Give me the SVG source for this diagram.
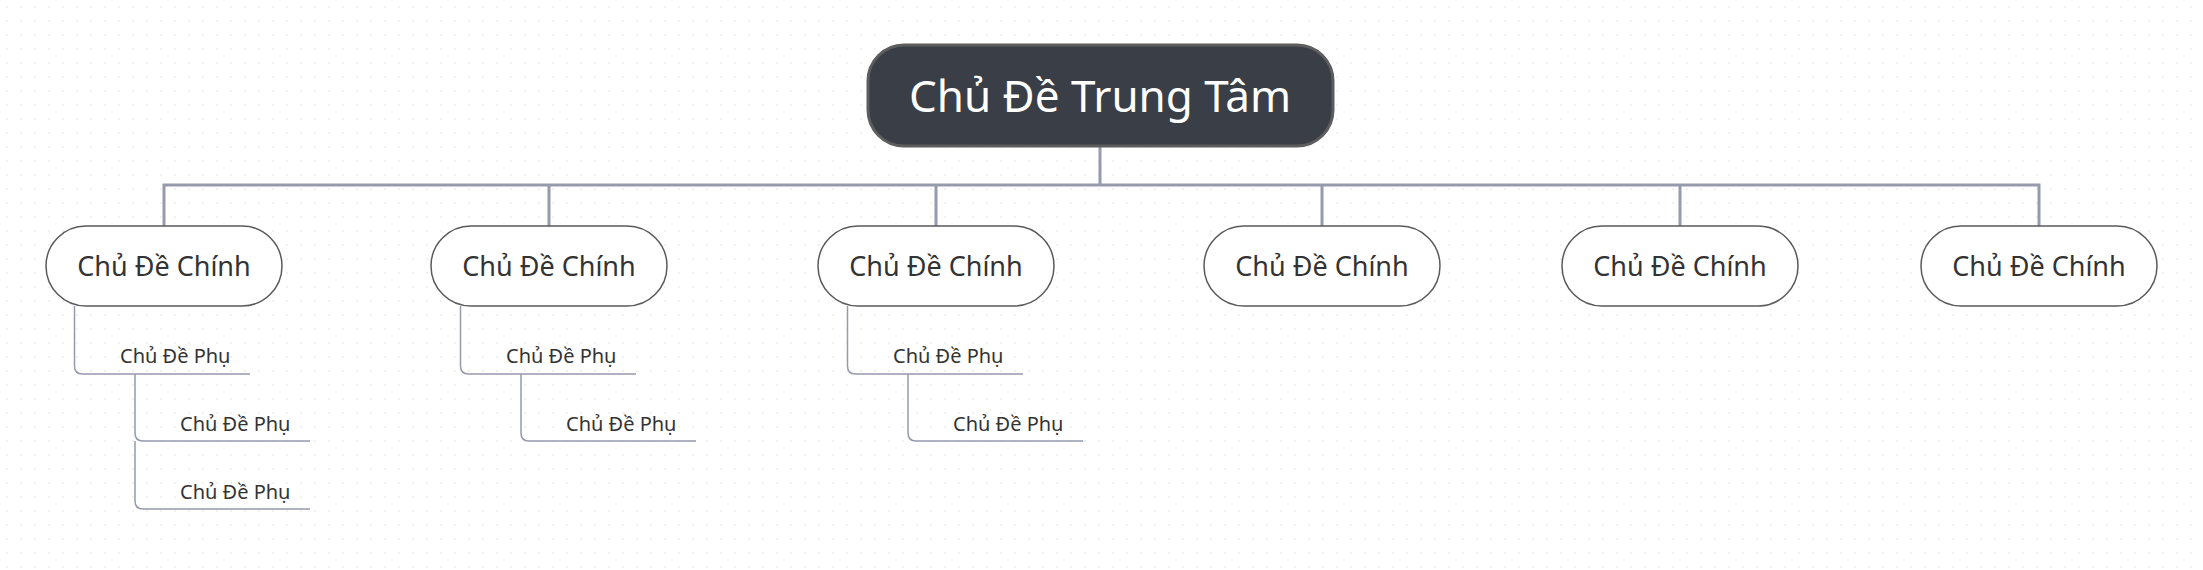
<svg xmlns="http://www.w3.org/2000/svg" width="2203" height="570" viewBox="0 0 2203 570">
<defs>
<pattern id="dots" width="14" height="14" patternUnits="userSpaceOnUse"><circle cx="7" cy="7" r="1" fill="#ececec"/></pattern>
</defs>
<style>
.main rect{fill:#fff;stroke:#5a5a5a;stroke-width:1.5}
.main text{font-family:"Noto Sans",sans-serif;font-size:27px;fill:#333;text-anchor:middle}
.sub{font-family:"Noto Sans",sans-serif;font-size:20px;fill:#333}
.c{fill:none;stroke:#959bad;stroke-width:3}
.s{fill:none;stroke:#959bad;stroke-width:1.5}
</style>
<rect width="2203" height="570" fill="#fff"/>
<rect width="2203" height="570" fill="url(#dots)"/>
<g id="connectors">
<path class="c" d="M1100 146V185M164 226V185H2039V226M549 185V226M936 185V226M1322 185V226M1680 185V226"/>
<path class="s" d="M74.5 306V366q0 8 8 8H250M135 374V433q0 8 8 8H310M135 441V501q0 8 8 8H310"/>
<path class="s" d="M460.5 306V366q0 8 8 8H636M521 374V433q0 8 8 8H696"/>
<path class="s" d="M847.5 306V366q0 8 8 8H1023M908 374V433q0 8 8 8H1083"/>
</g>
<g id="center"><rect x="868" y="45" width="465" height="101" rx="36" fill="#3a3e47" stroke="#5d5d5d" stroke-width="3"/><text x="1100" y="112" font-family="Noto Sans,sans-serif" font-size="44" fill="#fff" text-anchor="middle">Chủ Đề Trung Tâm</text></g>
<g id="m1" class="main"><rect x="46" y="226" width="236" height="80" rx="40"/><text x="164" y="276">Chủ Đề Chính</text></g>
<g id="m2" class="main"><rect x="431" y="226" width="236" height="80" rx="40"/><text x="549" y="276">Chủ Đề Chính</text></g>
<g id="m3" class="main"><rect x="818" y="226" width="236" height="80" rx="40"/><text x="936" y="276">Chủ Đề Chính</text></g>
<g id="m4" class="main"><rect x="1204" y="226" width="236" height="80" rx="40"/><text x="1322" y="276">Chủ Đề Chính</text></g>
<g id="m5" class="main"><rect x="1562" y="226" width="236" height="80" rx="40"/><text x="1680" y="276">Chủ Đề Chính</text></g>
<g id="m6" class="main"><rect x="1921" y="226" width="236" height="80" rx="40"/><text x="2039" y="276">Chủ Đề Chính</text></g>
<g id="s1"><text class="sub" x="120" y="363">Chủ Đề Phụ</text></g>
<g id="s2"><text class="sub" x="180" y="431">Chủ Đề Phụ</text></g>
<g id="s3"><text class="sub" x="180" y="499">Chủ Đề Phụ</text></g>
<g id="s4"><text class="sub" x="506" y="363">Chủ Đề Phụ</text></g>
<g id="s5"><text class="sub" x="566" y="431">Chủ Đề Phụ</text></g>
<g id="s6"><text class="sub" x="893" y="363">Chủ Đề Phụ</text></g>
<g id="s7"><text class="sub" x="953" y="431">Chủ Đề Phụ</text></g>
</svg>
